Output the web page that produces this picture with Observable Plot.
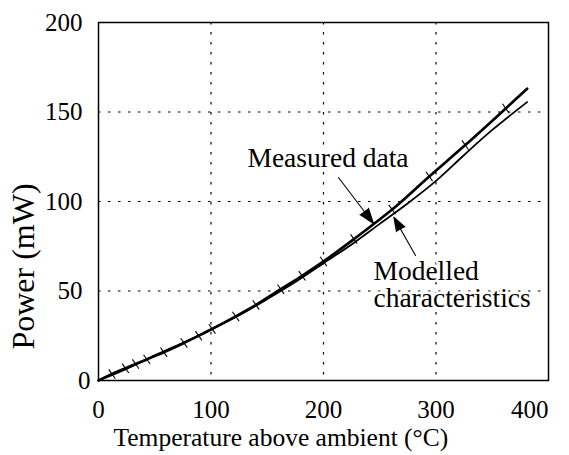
<!DOCTYPE html>
<html>
<head>
<meta charset="utf-8">
<script src="https://cdn.jsdelivr.net/npm/d3@7"></script>
<script src="https://cdn.jsdelivr.net/npm/@observablehq/plot@0.6"></script>
<style>
  body { margin: 0; background: #fff; }
  #chart svg, #chart svg text { font-family: "Liberation Serif", "Times New Roman", serif; }
</style>
</head>
<body>
<div id="chart"></div>
<script>
// Measured heater power vs temperature rise (markers + line)
const measuredTemp  = [0, 12, 24, 33, 43, 58, 76, 89, 101, 122, 140, 162, 181, 200, 227, 261, 294, 326, 362, 381];
const measuredPower = [0, 3.6, 6.8, 9.2, 11.8, 15.8, 21, 25, 28.8, 35.8, 42.2, 51, 58.5, 66.5, 79, 95.5, 114, 131.5, 152, 163];

// Model curve
const modelTemp  = [0, 25, 50, 75, 100, 125, 150, 175, 200, 225, 250, 275, 300, 325, 350, 381];
const modelPower = [0, 6.5, 14, 21, 28.5, 36.5, 45.5, 55, 65.5, 76, 87.5, 99, 111.5, 126, 140, 155.5];

// Axis ticks
const xTicks = [0, 100, 200, 300, 400];
const yTicks = [0, 50, 100, 150, 200];

// Callout labels and their arrows
const noteText  = ["Measured data", "Modelled", "characteristics"];
const noteTemp  = [132.4, 244.4, 244.4];
const notePower = [119, 56.2, 41.2];

const arrowFromTemp  = [213.3, 281.8];
const arrowFromPower = [113.4, 69.8];
const arrowToTemp    = [244.4, 262.5];
const arrowToPower   = [87.7, 91.2];

const measured = measuredTemp.map((t, i) => ({t, p: measuredPower[i]}));
const model = modelTemp.map((t, i) => ({t, p: modelPower[i]}));
const markers = measured.slice(1, -1);
const notes = noteText.map((text, i) => ({text, t: noteTemp[i], p: notePower[i]}));
const arrows = arrowFromTemp.map((t1, i) => ({
  t1, p1: arrowFromPower[i], t2: arrowToTemp[i], p2: arrowToPower[i]
}));

// short "\" stroke used as the data-point marker
const slash = {
  draw(context, size) {
    const r = Math.sqrt(size / Math.PI);
    context.moveTo(-0.6 * r, -0.85 * r);
    context.lineTo(0.6 * r, 0.85 * r);
  }
};

const grid = {stroke: "black", strokeOpacity: 1, strokeWidth: 1.2, strokeDasharray: "2.5,7.5"};

const chart = Plot.plot({
  width: 569,
  height: 455,
  marginLeft: 98,
  marginRight: 21,
  marginTop: 22,
  marginBottom: 75,
  style: "font-family: 'Liberation Serif', 'Times New Roman', serif; font-size: 25px; color: black; background: white; overflow: visible;",
  x: {domain: [0, 400], label: null},
  y: {domain: [0, 200], label: null},
  marks: [
    Plot.gridX(xTicks.slice(1, -1), grid),
    Plot.gridY(yTicks.slice(1, -1), grid),
    Plot.line(model, {x: "t", y: "p", stroke: "black", strokeWidth: 1.8, curve: "catmull-rom"}),
    Plot.line(measured, {x: "t", y: "p", stroke: "black", strokeWidth: 2.7, curve: "catmull-rom"}),
    Plot.dot(markers, {x: "t", y: "p", r: 5.5, symbol: slash, stroke: "black", strokeWidth: 1.1, fill: "none"}),
    Plot.text(notes, {
      x: "t", y: "p", text: "text", textAnchor: "start", lineAnchor: "bottom",
      fontSize: 27.5, fill: "black", stroke: "white", strokeWidth: 5
    }),
    Plot.arrow(arrows, {
      x1: "t1", y1: "p1", x2: "t2", y2: "p2",
      stroke: "black", fill: "black", strokeWidth: 1.1, headLength: 22, headAngle: 38
    }),
    Plot.frame({stroke: "black", strokeWidth: 1.5}),
    Plot.axisX(xTicks.slice(0, -1), {tickSize: 0, tickPadding: 20, fontSize: 25, label: null}),
    Plot.axisX(xTicks.slice(-1), {tickSize: 0, tickPadding: 20, fontSize: 25, textAnchor: "end", label: null}),
    Plot.axisY(yTicks.slice(1), {tickSize: 0, tickPadding: 16, fontSize: 25, label: null}),
    Plot.axisY(yTicks.slice(0, 1), {tickSize: 0, tickPadding: 8, fontSize: 25, label: null}),
    Plot.text(["Temperature above ambient (°C)"], {
      frameAnchor: "bottom-left", text: d => d, textAnchor: "start", lineAnchor: "bottom",
      dx: 15, dy: 65, fontSize: 25.5, fill: "black"
    }),
    Plot.text(["Power (mW)"], {
      frameAnchor: "left", text: d => d, rotate: -90, textAnchor: "middle", lineAnchor: "bottom",
      dx: -65, dy: 65, fontSize: 32, fill: "black"
    })
  ]
});

document.getElementById("chart").appendChild(chart);
</script>
</body>
</html>
